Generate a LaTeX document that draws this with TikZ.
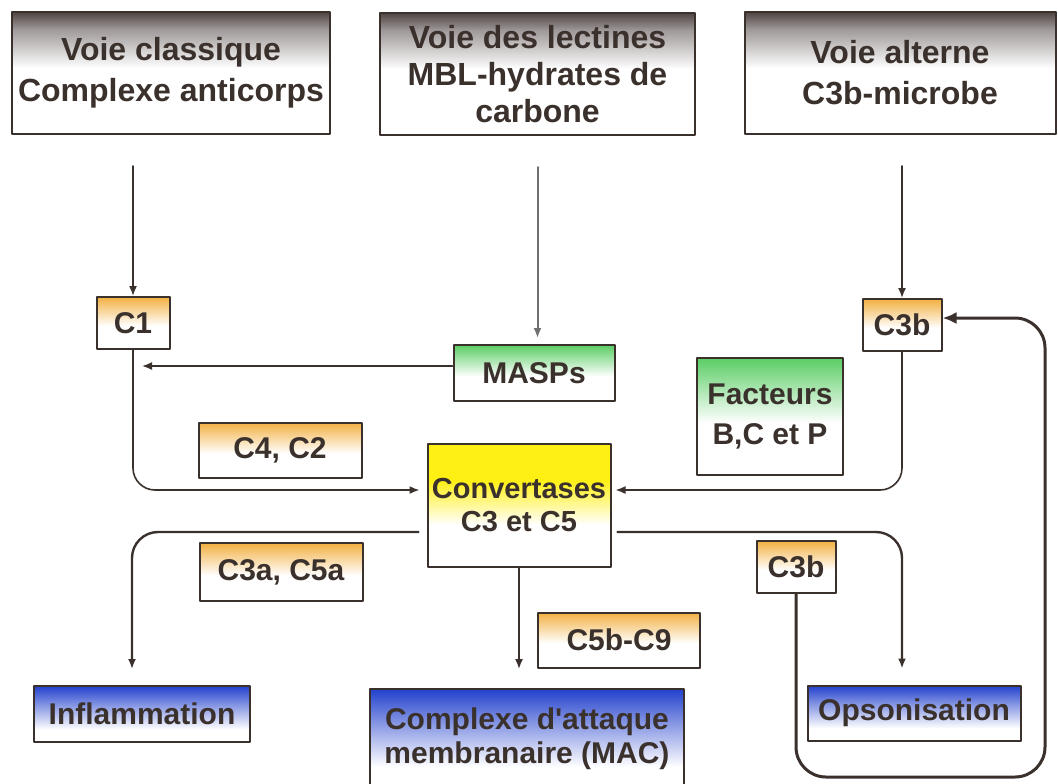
\documentclass[tikz,border=0pt]{standalone}
\usepackage{fontspec}
\setmainfont{Liberation Sans}[Ligatures=TeXOff]
\usetikzlibrary{arrows.meta}

\definecolor{encre}{RGB}{58,48,44}
\definecolor{grisVoie}{RGB}{80,68,68}
\definecolor{orangeF}{RGB}{242,176,66}
\definecolor{vertF}{RGB}{90,205,100}
\definecolor{jauneC}{RGB}{255,240,20}
\definecolor{bleuR}{RGB}{35,65,205}

% Degrades verticaux (zone visible entre 25bp et 75bp).
\pgfdeclareverticalshading{fondVoie}{100bp}{color(0bp)=(white);
  color(25bp)=(white); color(52bp)=(white); color(68bp)=(grisVoie!55);
  color(75bp)=(grisVoie); color(100bp)=(grisVoie)}
\pgfdeclareverticalshading{fondOrange}{100bp}{color(0bp)=(white);
  color(25bp)=(white); color(47bp)=(white); color(75bp)=(orangeF);
  color(100bp)=(orangeF)}
\pgfdeclareverticalshading{fondVert}{100bp}{color(0bp)=(white);
  color(25bp)=(white); color(47bp)=(white); color(75bp)=(vertF);
  color(100bp)=(vertF)}
\pgfdeclareverticalshading{fondJaune}{100bp}{color(0bp)=(white);
  color(25bp)=(white); color(42bp)=(white); color(60bp)=(jauneC);
  color(75bp)=(jauneC); color(100bp)=(jauneC)}
\pgfdeclareverticalshading{fondBleu}{100bp}{color(0bp)=(white);
  color(25bp)=(white); color(36bp)=(white); color(58bp)=(bleuR!55);
  color(75bp)=(bleuR); color(100bp)=(bleuR)}

\begin{document}
\begin{tikzpicture}[
  x=0.5pt,y=-0.5pt,
  font=\fontsize{15}{20}\selectfont\bfseries,
  line cap=round,line join=round,
  taille/.style 2 args={minimum width=#1*0.5pt,minimum height=#2*0.5pt},
  boite/.style={draw=encre,line width=1pt,text=encre,align=center,inner sep=0pt},
  voie/.style={boite,shading=fondVoie,
    font=\fontsize{16}{20.5}\selectfont\bfseries},
  facteur/.style={boite,shading=fondOrange},
  enzyme/.style={boite,shading=fondVert},
  reponse/.style={boite,shading=fondBleu},
  fleche/.style={-{Latex[length=5pt,width=4pt]},encre,line width=0.8pt,
    rounded corners=11pt},
  branche/.style={fleche,line width=1.2pt,rounded corners=13pt},
  boucle/.style={-{Latex[length=7pt,width=6pt]},encre,line width=1.5pt,
    rounded corners=15pt}
]
  \useasboundingbox (0,0) rectangle (1058,783);

  % Les trois voies d'activation.
  \node[voie,taille={318}{122}] (voieClass) at (171,73)
    {Voie classique\\Complexe anticorps};
  \node[voie,taille={315}{122},font=\fontsize{16}{18.5}\selectfont\bfseries]
    (voieLect) at (537.5,74) {Voie des lectines\\MBL-hydrates de\\carbone};
  \node[voie,taille={311}{122}] (voieAlt) at (900,73)
    {Voie alterne\\C3b-microbe};

  % Facteurs intermediaires.
  \node[facteur,taille={73}{52}] (cUn) at (133,323) {C1};
  \node[enzyme,taille={161}{56}] (masps) at (534,373) {MASPs};
  \node[facteur,taille={79}{52}] (cTroisH) at (902,325) {C3b};
  \node[enzyme,taille={146}{117}] (facteurs) at (770,416)
    {Facteurs\\B,C et P};
  \node[facteur,taille={163}{55}] (cQuatre) at (280,450) {C4, C2};
  \node[boite,taille={183}{123},shading=fondJaune,
    font=\fontsize{14.5}{16.5}\selectfont\bfseries]
    (conv) at (519,505) {Convertases\\C3 et C5};
  \node[facteur,taille={163}{58}] (cTroisA) at (281,572) {C3a, C5a};
  \node[facteur,taille={79}{52}] (cTroisB) at (796,567) {C3b};
  \node[facteur,taille={162}{55}] (cCinq) at (619,640) {C5b-C9};

  % Effets.
  \node[reponse,taille={216}{56}] (inflam) at (142,714) {Inflammation};
  \node[reponse,taille={314}{100},font=\fontsize{15}{17}\selectfont\bfseries]
    (mac) at (527,739) {Complexe d'attaque\\membranaire (MAC)};
  \node[reponse,taille={213}{55}] (opso) at (914,713) {Opsonisation};

  % Activation.
  \draw[fleche] ([yshift=-15.5pt]voieClass.south -| cUn.north) -- (cUn.north);
  \draw[fleche,gray!80!encre,line width=1pt,shorten >=3pt]
    ([yshift=-15.5pt]voieLect.south) -- (voieLect.south |- masps.north);
  \draw[fleche] ([yshift=-15.5pt]voieAlt.south -| cTroisH.north)
    -- (cTroisH.north);
  \draw[fleche,shorten >=4.5pt]
    ([yshift=3.5pt]masps.west) -- ([yshift=3.5pt]masps.west -| cUn.south);
  \draw[fleche,shorten >=3.5pt]
    (cUn.south) |- ([yshift=7.5pt]conv.west);
  \draw[fleche,shorten >=2pt]
    (cTroisH.south) |- ([yshift=7.5pt]conv.east);

  % Sorties des convertases.
  \draw[branche,shorten <=4pt,shorten >=8pt]
    ([yshift=-13.5pt]conv.west) -| ([xshift=-5pt]inflam.north);
  \draw[fleche,shorten >=9.5pt] (conv.south) -- (conv.south |- mac.north);
  \draw[branche,shorten <=3pt,shorten >=8pt]
    ([yshift=-13.5pt]conv.east) -| (cTroisH.south |- opso.north);

  % Retour du C3b.
  \coordinate (coinBas) at (1045,777);
  \draw[boucle] (cTroisB.south) |- (coinBas)
    |- ([yshift=3.5pt]cTroisH.east);
\end{tikzpicture}
\end{document}
